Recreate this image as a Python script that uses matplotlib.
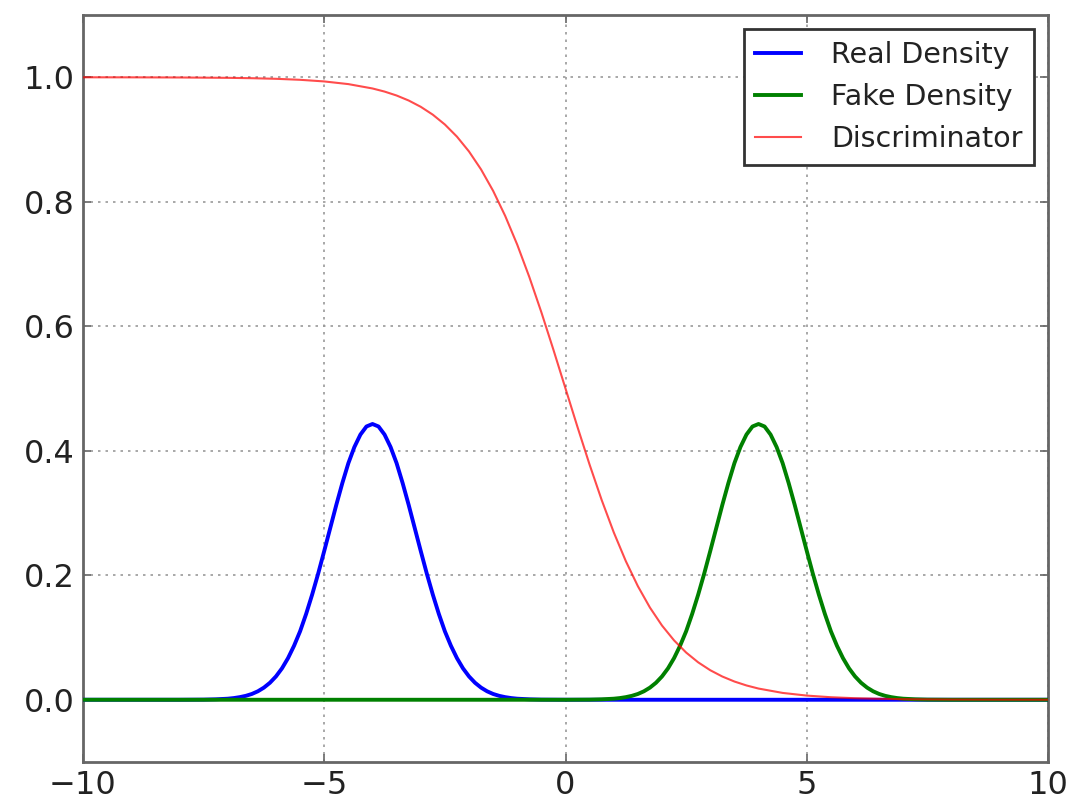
import matplotlib
matplotlib.use("Agg")
import matplotlib.pyplot as plt

# Real density (centered near -4)
real_x = [-10, -8, -7.5, -7.25, -7.0, -6.875, -6.75, -6.625, -6.5, -6.375, -6.25, -6.125,
          -6.0, -5.875, -5.75, -5.625, -5.5, -5.375, -5.25, -5.125,
          -5.0, -4.875, -4.75, -4.625, -4.5, -4.375, -4.25, -4.125, -4.0,
          -3.875, -3.75, -3.625, -3.5, -3.375, -3.25, -3.125, -3.0,
          -2.875, -2.75, -2.625, -2.5, -2.375, -2.25, -2.125, -2.0, -1.875, -1.75,
          -1.625, -1.5, -1.375, -1.25, -1.125, -1.0, -0.75, -0.5, 0, 10]
real_y = [0, 0, 0.0002, 0.0007, 0.0017, 0.0027, 0.0042, 0.0063, 0.0093, 0.0136, 0.0195, 0.0273,
          0.0375, 0.0505, 0.0669, 0.0868, 0.110, 0.1379, 0.169, 0.2028,
          0.239, 0.276, 0.313, 0.348, 0.380, 0.406, 0.426, 0.439, 0.443,
          0.439, 0.426, 0.406, 0.380, 0.348, 0.313, 0.276, 0.239,
          0.2028, 0.169, 0.1379, 0.110, 0.0868, 0.0669, 0.0505, 0.0375, 0.0273, 0.0195,
          0.0136, 0.0093, 0.0063, 0.0042, 0.0027, 0.0017, 0.0007, 0.0002, 0, 0]

# Fake density (centered near +4)
fake_x = [-10, 0, 0.5, 0.75, 1.0, 1.125, 1.25, 1.375, 1.5, 1.625, 1.75, 1.875,
          2.0, 2.125, 2.25, 2.375, 2.5, 2.625, 2.75, 2.875,
          3.0, 3.125, 3.25, 3.375, 3.5, 3.625, 3.75, 3.875, 4.0,
          4.125, 4.25, 4.375, 4.5, 4.625, 4.75, 4.875, 5.0,
          5.125, 5.25, 5.375, 5.5, 5.625, 5.75, 5.875, 6.0, 6.125, 6.25,
          6.375, 6.5, 6.625, 6.75, 6.875, 7.0, 7.25, 7.5, 8, 10]
fake_y = [0, 0, 0.0002, 0.0007, 0.0017, 0.0027, 0.0042, 0.0063, 0.0093, 0.0136, 0.0195, 0.0273,
          0.0375, 0.0505, 0.0669, 0.0868, 0.110, 0.1379, 0.169, 0.2028,
          0.239, 0.276, 0.313, 0.348, 0.380, 0.406, 0.426, 0.439, 0.443,
          0.439, 0.426, 0.406, 0.380, 0.348, 0.313, 0.276, 0.239,
          0.2028, 0.169, 0.1379, 0.110, 0.0868, 0.0669, 0.0505, 0.0375, 0.0273, 0.0195,
          0.0136, 0.0093, 0.0063, 0.0042, 0.0027, 0.0017, 0.0007, 0.0002, 0, 0]

# Discriminator output
disc_x = [-10, -9, -8, -7, -6.5, -6, -5.5, -5, -4.5, -4, -3.75, -3.5, -3.25, -3, -2.75,
          -2.5, -2.25, -2, -1.75, -1.5, -1.25, -1, -0.75, -0.5, -0.25, 0,
          0.25, 0.5, 0.75, 1, 1.25, 1.5, 1.75, 2, 2.25, 2.5, 2.75, 3, 3.25, 3.5,
          3.75, 4, 4.5, 5, 5.5, 6, 6.5, 7, 8, 9, 10]
disc_y = [0.99995, 0.99988, 0.99966, 0.99909, 0.9985, 0.99753, 0.99593, 0.99331, 0.98901,
          0.98201, 0.97702, 0.97069, 0.96267, 0.95257, 0.93991, 0.92414, 0.90465, 0.88080,
          0.85195, 0.81757, 0.77730, 0.73106, 0.67918, 0.62246, 0.56218, 0.5,
          0.43782, 0.37754, 0.32082, 0.26894, 0.22270, 0.18243, 0.14805, 0.11920, 0.09535,
          0.07586, 0.06009, 0.04743, 0.03733, 0.02931, 0.02298, 0.01799, 0.01099, 0.00669,
          0.00407, 0.00247, 0.0015, 0.00091, 0.00034, 0.00012, 0.00005]

x_ticks = [-10, -5, 0, 5, 10]
x_tick_labels = ["\u221210", "\u22125", "0", "5", "10"]
y_ticks = [0.0, 0.2, 0.4, 0.6, 0.8, 1.0]
y_tick_labels = ["0.0", "0.2", "0.4", "0.6", "0.8", "1.0"]

fig = plt.figure(figsize=(10.69, 7.99), dpi=100, facecolor="white")
ax = fig.add_axes([0.0776, 0.0463, 0.9028, 0.9349])

ax.plot(real_x, real_y, color="#0000ff", lw=2.8, label="Real Density", zorder=3,
        solid_joinstyle="round")
ax.plot(fake_x, fake_y, color="#008000", lw=2.8, label="Fake Density", zorder=3,
        solid_joinstyle="round")
ax.plot(disc_x, disc_y, color="#ff0000", alpha=0.7, lw=1.5, label="Discriminator", zorder=3)

ax.set_xlim(-10, 10)
ax.set_ylim(-0.1, 1.1)
ax.set_xticks(x_ticks)
ax.set_xticklabels(x_tick_labels)
ax.set_yticks(y_ticks)
ax.set_yticklabels(y_tick_labels)
ax.tick_params(direction="in", length=6, width=1.2, top=True, right=True,
               labelsize=23, colors="#222222", pad=6)
ax.tick_params(axis="both", colors="#666666", labelcolor="#222222")
for s in ax.spines.values():
    s.set_color("#666666")
    s.set_linewidth(2)
ax.grid(True, linestyle=(0, (1.5, 3)), color="#999999", linewidth=1.2)

leg = ax.legend(loc="upper right", fontsize=20.5, fancybox=False, framealpha=1,
                edgecolor="#333333", handlelength=1.6, handletextpad=1.05,
                borderpad=0.4, labelspacing=0.5, borderaxespad=0.5)
leg.get_frame().set_linewidth(2)
for t in leg.get_texts():
    t.set_color("#222222")

fig.savefig("out.png", dpi=100, facecolor="white")
